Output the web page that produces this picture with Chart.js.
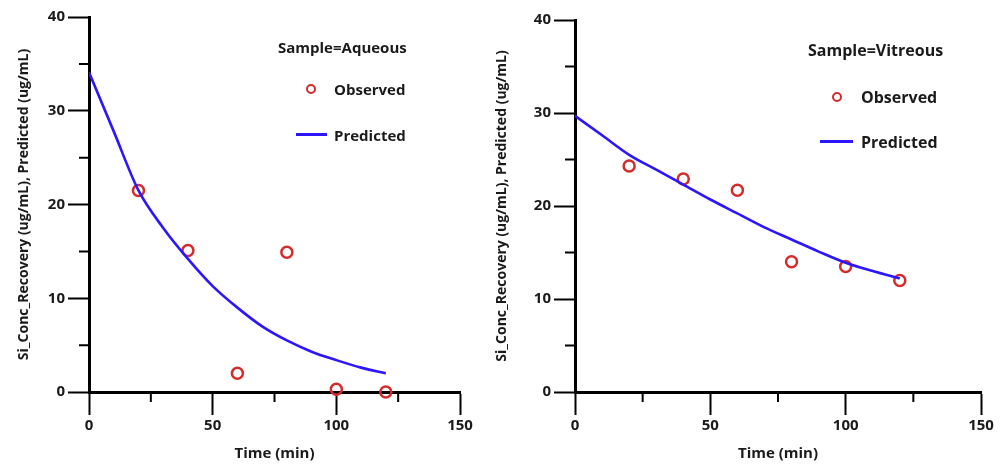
<!DOCTYPE html>
<html>
<head>
<meta charset="utf-8">
<script src="https://cdn.jsdelivr.net/npm/chart.js@4/dist/chart.umd.min.js"></script>
<style>
  html, body { margin: 0; padding: 0; background: #fff; }
  #wrap { position: relative; width: 1000px; height: 471px; overflow: hidden; }
  canvas { position: absolute; top: 0; }
  .leg { position: absolute; font-family: "Open Sans", "DejaVu Sans", sans-serif; font-weight: bold; color: #1a1a1a; white-space: nowrap; line-height: 20px; height: 20px; }
  .mark { position: absolute; box-sizing: border-box; border: 2.5px solid #d42b2b; border-radius: 50%; width: 10px; height: 10px; }
  .dash { position: absolute; height: 3px; background: #2b16ff; }
</style>
</head>
<body>
<div id="wrap">
  <canvas id="aqueousChart" width="490" height="471" style="left:0"></canvas>
  <canvas id="vitreousChart" width="510" height="471" style="left:490px"></canvas>

  <!-- legend, left panel -->
  <div class="leg" style="left:278px; top:37px; font-size:15px">Sample=Aqueous</div>
  <div class="mark" style="left:306px; top:84px"></div>
  <div class="leg" style="left:334px; top:79px; font-size:15px">Observed</div>
  <div class="dash" style="left:296px; top:133px; width:31px"></div>
  <div class="leg" style="left:334px; top:125px; font-size:15px">Predicted</div>

  <!-- legend, right panel -->
  <div class="leg" style="left:808px; top:40px; font-size:16px">Sample=Vitreous</div>
  <div class="mark" style="left:832px; top:92px"></div>
  <div class="leg" style="left:861px; top:87px; font-size:16px">Observed</div>
  <div class="dash" style="left:820px; top:140px; width:33px"></div>
  <div class="leg" style="left:861px; top:132px; font-size:16px">Predicted</div>
</div>

<script>
// observed samples
const obsTime = [20, 40, 60, 80, 100, 120];
const aqueousObserved = [21.5, 15.1, 2.0, 14.9, 0.3, 0.0];
const vitreousObserved = [24.3, 22.9, 21.7, 14.0, 13.5, 12.0];

// model prediction
const predTime = [0, 10, 20, 30, 40, 50, 60, 70, 80, 90, 100, 110, 120];
const aqueousPredicted = [34.1, 27.8, 21.5, 17.5, 14.2, 11.3, 9.0, 7.0, 5.5, 4.3, 3.4, 2.6, 2.0];
const vitreousPredicted = [29.7, 27.6, 25.5, 23.9, 22.3, 20.7, 19.2, 17.7, 16.4, 15.1, 13.9, 13.0, 12.2];

// axis ticks
const xTicks = [0, 50, 100, 150];
const xMinorTicks = [25, 75, 125];
const yTicks = [0, 10, 20, 30, 40];
const yMinorTicks = [5, 15, 25, 35];

const FONT = '"Open Sans", "DejaVu Sans", sans-serif';
const RED = '#d42b2b';
const BLUE = '#2b16ff';

const toPoints = (xs, ys) => xs.map((x, i) => ({ x: x, y: ys[i] }));

// short ticks between the labelled ones
const minorTicks = {
    id: 'minorTicks',
    afterDraw(chart) {
        const ctx = chart.ctx;
        const area = chart.chartArea;
        ctx.save();
        ctx.strokeStyle = '#000';
        ctx.lineWidth = 2;
        ctx.beginPath();
        yMinorTicks.forEach(v => {
            const y = chart.scales.y.getPixelForValue(v);
            ctx.moveTo(area.left - 10, y);
            ctx.lineTo(area.left, y);
        });
        xMinorTicks.forEach(v => {
            const x = chart.scales.x.getPixelForValue(v);
            ctx.moveTo(x, area.bottom);
            ctx.lineTo(x, area.bottom + 10);
        });
        ctx.stroke();
        ctx.restore();
    }
};

function makePanel(canvasId, observed, predicted, opts) {
    const ctx = document.getElementById(canvasId).getContext('2d');
    return new Chart(ctx, {
        type: 'scatter',
        data: {
            datasets: [
                {
                    label: 'Predicted',
                    type: 'line',
                    data: toPoints(predTime, predicted),
                    borderColor: BLUE,
                    borderWidth: 2.6,
                    pointRadius: 0,
                    tension: 0.4,
                    cubicInterpolationMode: 'monotone',
                    fill: false
                },
                {
                    label: 'Observed',
                    data: toPoints(obsTime, observed),
                    borderColor: RED,
                    backgroundColor: 'rgba(255,255,255,0)',
                    borderWidth: 2.5,
                    pointRadius: 5.5,
                    clip: false
                }
            ]
        },
        options: {
            responsive: false,
            animation: false,
            events: [],
            layout: { padding: { left: 0, top: opts.top, right: opts.right, bottom: 0 } },
            plugins: { legend: { display: false }, tooltip: { enabled: false } },
            scales: {
                x: {
                    type: 'linear',
                    min: 0,
                    max: 150,
                    afterBuildTicks: scale => { scale.ticks = xTicks.map(v => ({ value: v })); },
                    afterFit: scale => { scale.height = 79; },
                    border: { display: true, color: '#000', width: 3 },
                    grid: { drawOnChartArea: false, drawTicks: true, tickLength: 23, tickWidth: 2, tickColor: '#000' },
                    ticks: { padding: 2, color: '#1a1a1a', font: { family: FONT, size: opts.tickSize, weight: 'bold' } },
                    title: {
                        display: true,
                        text: 'Time (min)',
                        color: '#1a1a1a',
                        font: { family: FONT, size: opts.tickSize, weight: 'bold' },
                        padding: { top: 0, bottom: 8 }
                    }
                },
                y: {
                    type: 'linear',
                    min: 0,
                    max: 40,
                    afterBuildTicks: scale => { scale.ticks = yTicks.map(v => ({ value: v })); },
                    afterFit: scale => { scale.width = opts.yWidth; },
                    border: { display: true, color: '#000', width: 3 },
                    grid: { drawOnChartArea: false, drawTicks: true, tickLength: 21, tickWidth: 2, tickColor: '#000' },
                    ticks: { padding: 3, color: '#1a1a1a', font: { family: FONT, size: opts.tickSize, weight: 'bold' } },
                    title: {
                        display: true,
                        text: 'Si_Conc_Recovery (ug/mL), Predicted (ug/mL)',
                        color: '#1a1a1a',
                        font: { family: FONT, size: opts.titleSize, weight: 'bold' },
                        padding: { top: opts.titlePad, bottom: 0 }
                    }
                }
            }
        },
        plugins: [minorTicks]
    });
}

makePanel('aqueousChart', aqueousObserved, aqueousPredicted,
    { top: 17, right: 30, yWidth: 89, tickSize: 15, titleSize: 14, titlePad: 16 });
makePanel('vitreousChart', vitreousObserved, vitreousPredicted,
    { top: 20, right: 19, yWidth: 85, tickSize: 15, titleSize: 14, titlePad: 4 });
</script>
</body>
</html>
